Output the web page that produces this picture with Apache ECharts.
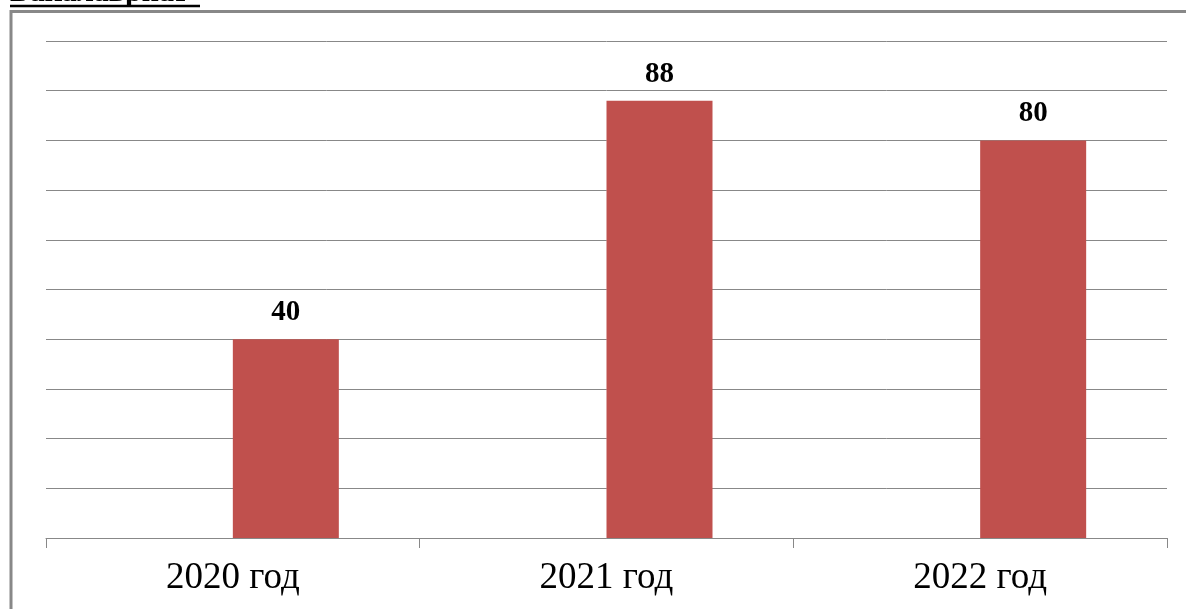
<!DOCTYPE html>
<html><head><meta charset="utf-8">
<script src="https://cdn.jsdelivr.net/npm/echarts@6/dist/echarts.min.js"></script>
<style>html,body{margin:0;padding:0;background:#fff}#c{width:1186px;height:609px}</style>
</head><body><div id="c"></div>
<script>
const categories = ['2020 год', '2021 год', '2022 год'];
const values = [40, 88, 80];
const emptyValues = [null, null, null];
const title = 'Бакалавриат';

const chart = echarts.init(document.getElementById('c'));
chart.setOption({
  animation: false,
  backgroundColor: '#fff',
  grid: { left: 46, right: 19, top: 41, bottom: 71, containLabel: false },
  graphic: [
    { type: 'text', x: 10, y: 8, style: { text: title, font: 'bold 30px "Liberation Serif"', fill: '#000', textVerticalAlign: 'bottom', verticalAlign: 'bottom' } },
    { type: 'line', shape: { x1: 10, y1: 6, x2: 200, y2: 6 }, style: { stroke: '#000', lineWidth: 2.5 } },
    { type: 'line', shape: { x1: 11, y1: 11.5, x2: 1186, y2: 11.5 }, style: { stroke: '#888', lineWidth: 3 } },
    { type: 'line', shape: { x1: 11, y1: 10, x2: 11, y2: 609 }, style: { stroke: '#888', lineWidth: 3 } }
  ],
  xAxis: {
    type: 'category', data: categories,
    axisLine: { lineStyle: { color: '#888', width: 1 } },
    axisTick: { show: true, length: 10, lineStyle: { color: '#888' } },
    axisLabel: { color: '#000', fontFamily: 'Liberation Serif', fontSize: 37, margin: 22 }
  },
  yAxis: {
    type: 'value', min: 0, max: 100, interval: 10,
    axisLabel: { show: false }, axisLine: { show: false }, axisTick: { show: false },
    splitLine: { lineStyle: { color: '#888', width: 1 } }
  },
  series: [
    { type: 'bar', data: emptyValues, barWidth: 106, barGap: '0%' },
    {
      type: 'bar', data: values, barWidth: 106, barGap: '0%',
      itemStyle: { color: '#C0504D' },
      label: { show: true, position: 'top', distance: 12, color: '#000',
        fontFamily: 'Liberation Serif', fontWeight: 'bold', fontSize: 29 }
    }
  ]
});
</script></body></html>
